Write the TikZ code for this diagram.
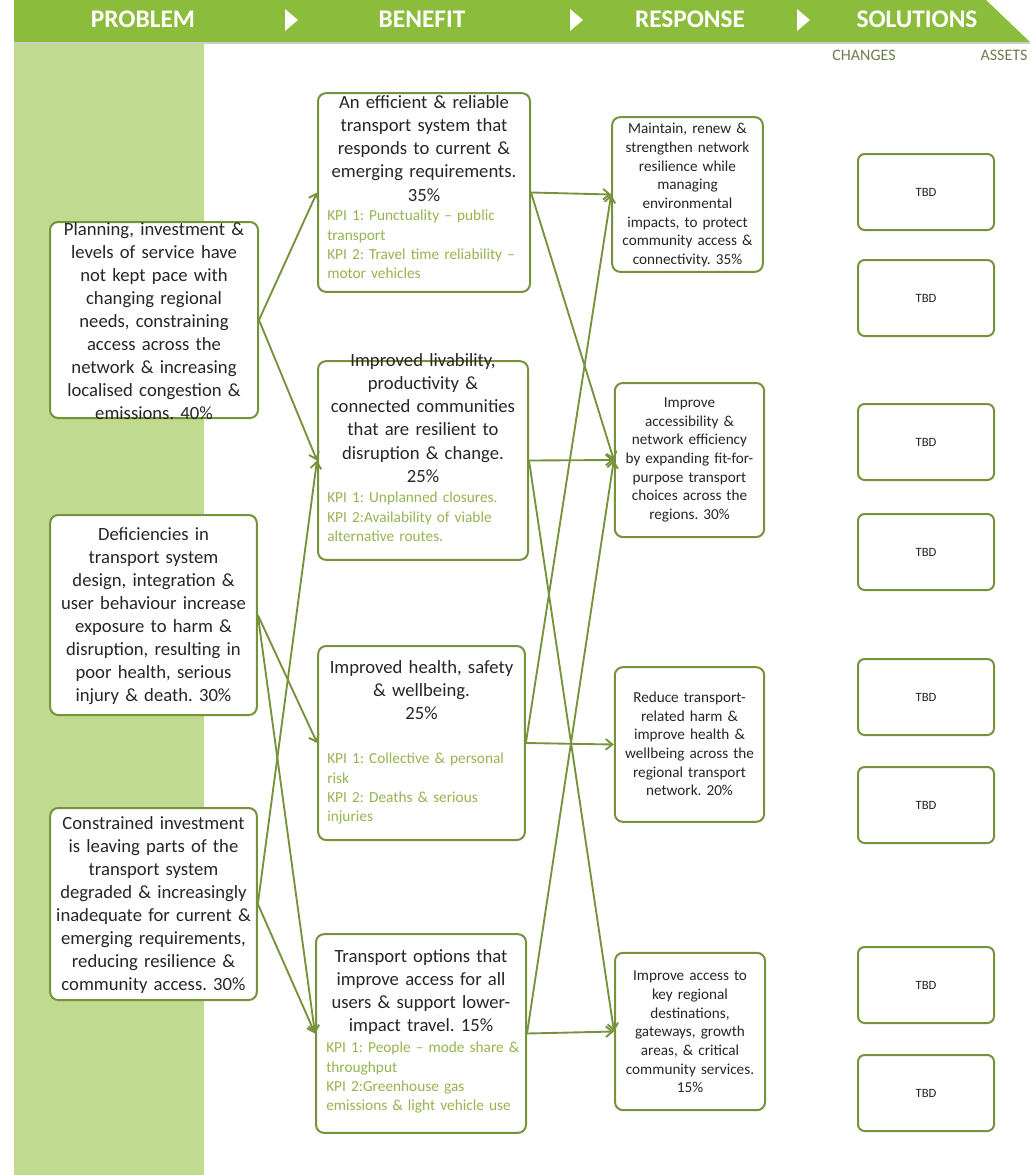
\documentclass[tikz,border=0pt]{standalone}
\usepackage{fontspec}
\setmainfont{Carlito}
\usetikzlibrary{arrows.meta}
\definecolor{olive}{RGB}{118,146,60}
\definecolor{band}{RGB}{140,188,60}
\definecolor{colgreen}{RGB}{192,219,143}
\definecolor{kpi}{RGB}{150,180,80}
\definecolor{txt}{RGB}{38,38,38}
\definecolor{sub}{RGB}{110,125,80}
\begin{document}
\frenchspacing
\begin{tikzpicture}[x=0.75pt,y=-0.75pt,
  box/.style={draw=olive,line width=1.5pt,rounded corners=6pt,fill=white,inner sep=0pt},
  tbdbox/.style={draw=olive,line width=1.5pt,rounded corners=5pt,fill=white,inner sep=0pt,
    minimum width=102pt,minimum height=57pt,font=\fontsize{9.5}{11}\selectfont,text=txt},
  ptext/.style={text width=152pt,align=center,inner sep=0pt,text=txt,
    font=\fontsize{14}{17.25}\selectfont},
  btext/.style={text width=156pt,align=center,inner sep=0pt,text=txt,anchor=north,
    font=\fontsize{14}{17.4}\selectfont},
  ktext/.style={text width=154pt,align=left,inner sep=0pt,text=kpi,anchor=north west,
    font=\fontsize{11.5}{14.5}\selectfont},
  rtext/.style={text width=110pt,align=center,inner sep=0pt,text=txt,
    font=\fontsize{11.4}{14}\selectfont},
  head/.style={text=white,font=\fontsize{19}{22}\selectfont\bfseries,inner sep=0pt},
  subhead/.style={text=sub,font=\fontsize{12}{14}\selectfont,inner sep=0pt},
  conn/.style={draw=olive,line width=1.4pt,-{Straight Barb[length=5pt,width=8pt]}}
]
\useasboundingbox (0,0) rectangle (1030,1175);
\fill[white] (0,0) rectangle (1030,1175);
% left green column and header band
\fill[colgreen] (14,42) rectangle (204,1175);
\fill[band] (14,0) -- (986,0) -- (1030,42) -- (14,42) -- cycle;
\draw[black!20,line width=1pt] (14,43) -- (1030,43);
\fill[white] (285,9) -- (298,20) -- (285,31) -- cycle;
\fill[white] (570,9) -- (583,20) -- (570,31) -- cycle;
\fill[white] (797,9) -- (810,20) -- (797,31) -- cycle;
\node[head] (hprob) at (143,19) {PROBLEM};
\node[head] (hben) at (422,19) {BENEFIT};
\node[head] (hresp) at (690,19) {RESPONSE};
\node[head] (hsol) at (917,19) {SOLUTIONS};
\node[subhead] (hchg) at (864,55) {CHANGES};
\node[subhead] (hass) at (1004,55) {ASSETS};

% problem boxes
\node[box,minimum width=156pt,minimum height=147pt] (p1) at (154,320) {};
\node[ptext] (p1t) at (154,321) {Planning, investment \&\\ levels of service have\\ not kept pace with\\ changing regional\\ needs, constraining\\ access across the\\ network \& increasing\\ localised congestion \&\\ emissions. 40\%};
\node[box,minimum width=155pt,minimum height=150pt] (p2) at (153.5,615) {};
\node[ptext] (p2t) at (153.5,616) {Deficiencies in\\ transport system\\ design, integration \&\\ user behaviour increase\\ exposure to harm \&\\ disruption, resulting in\\ poor health, serious\\ injury \& death. 30\%};
\node[box,minimum width=155pt,minimum height=144pt] (p3) at (153.5,904) {};
\node[ptext] (p3t) at (153.5,905) {Constrained investment\\ is leaving parts of the\\ transport system\\ degraded \& increasingly\\ inadequate for current \&\\ emerging requirements,\\ reducing resilience \&\\ community access. 30\%};

% benefit boxes
\node[box,minimum width=159pt,minimum height=149pt] (b1) at (424,192.5) {};
\node[btext] (b1t) at (424,95) {An efficient \& reliable\\ transport system that\\ responds to current \&\\ emerging requirements.\\ 35\%};
\node[ktext] (b1k) at (327,210) {KPI 1: Punctuality – public\\ transport\\ KPI 2: Travel time reliability –\\ motor vehicles};
\node[box,minimum width=157.5pt,minimum height=149pt] (b2) at (423,460.5) {};
\node[btext] (b2t) at (423,353) {Improved livability,\\ productivity \&\\ connected communities\\ that are resilient to\\ disruption \& change.\\ 25\%};
\node[ktext] (b2k) at (327,492) {KPI 1: Unplanned closures.\\ KPI 2:Availability of viable\\ alternative routes.};
\node[box,minimum width=155pt,minimum height=145.5pt] (b3) at (421.5,743) {};
\node[btext] (b3t) at (421.5,660) {Improved health, safety\\ \& wellbeing.\\ 25\%};
\node[ktext] (b3k) at (327,753) {KPI 1: Collective \& personal\\ risk\\ KPI 2: Deaths \& serious\\ injuries};
\node[box,minimum width=157.5pt,minimum height=149pt] (b4) at (421,1033.5) {};
\node[btext] (b4t) at (421,949) {Transport options that\\ improve access for all\\ users \& support lower-\\ impact travel. 15\%};
\node[ktext] (b4k) at (326,1042) {KPI 1: People – mode share \&\\ throughput\\ KPI 2:Greenhouse gas\\ emissions \& light vehicle use};

% response boxes
\node[box,minimum width=113pt,minimum height=116pt] (r1) at (687.5,194.5) {};
\node[rtext] (r1t) at (687.5,195) {Maintain, renew \&\\ strengthen network\\ resilience while\\ managing\\ environmental\\ impacts, to protect\\ community access \&\\ connectivity. 35\%};
\node[box,minimum width=112pt,minimum height=115.5pt] (r2) at (689.5,460) {};
\node[rtext] (r2t) at (689.5,460) {Improve\\ accessibility \&\\ network efficiency\\ by expanding fit-for-\\ purpose transport\\ choices across the\\ regions. 30\%};
\node[box,minimum width=112pt,minimum height=116pt] (r3) at (689.5,744.5) {};
\node[rtext] (r3t) at (689.5,744) {Reduce transport-\\ related harm \&\\ improve health \&\\ wellbeing across the\\ regional transport\\ network. 20\%};
\node[box,minimum width=112.5pt,minimum height=118pt] (r4) at (690,1031.5) {};
\node[rtext] (r4t) at (690,1032) {Improve access to\\ key regional\\ destinations,\\ gateways, growth\\ areas, \& critical\\ community services.\\ 15\%};

% TBD boxes
\node[tbdbox] (t1) at (926,192) {TBD};
\node[tbdbox] (t2) at (926,298) {TBD};
\node[tbdbox] (t3) at (926,442) {TBD};
\node[tbdbox] (t4) at (926,552) {TBD};
\node[tbdbox] (t5) at (926,697) {TBD};
\node[tbdbox] (t6) at (926,805) {TBD};
\node[tbdbox] (t7) at (926,985) {TBD};
\node[tbdbox] (t8) at (926,1093) {TBD};

% connectors problem -> benefit
\draw[conn] (p1.east) -- (b1.west);
\draw[conn] (p1.east) -- (b2.west);
\draw[conn] (p2.east) -- (b3.west);
\draw[conn] (p2.east) -- (b4.west);
\draw[conn] (p3.east) -- (b2.west);
\draw[conn] (p3.east) -- (b4.west);
% connectors benefit -> response
\draw[conn] (b1.east) -- (r1.west);
\draw[conn] (b1.east) -- (r2.west);
\draw[conn] (b2.east) -- (r2.west);
\draw[conn] (b2.east) -- (r4.west);
\draw[conn] (b3.east) -- (r3.west);
\draw[conn] (b3.east) -- (r1.west);
\draw[conn] (b4.east) -- (r4.west);
\draw[conn] (b4.east) -- (r2.west);
\end{tikzpicture}
\end{document}
